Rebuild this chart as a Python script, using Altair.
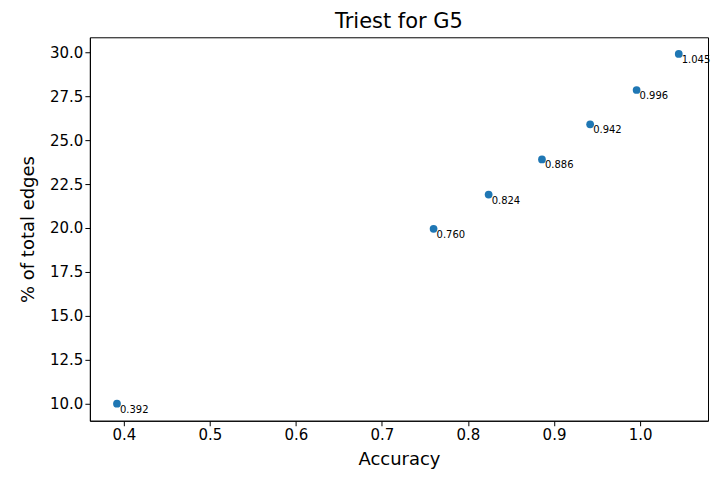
import altair as alt
import pandas as pd

accuracy = [0.392, 0.760, 0.824, 0.886, 0.942, 0.996, 1.045]
pct_edges = [10.0, 19.95, 21.9, 23.9, 25.9, 27.85, 29.9]
labels = ["0.392", "0.760", "0.824", "0.886", "0.942", "0.996", "1.045"]

df = pd.DataFrame({"acc": accuracy, "pct": pct_edges, "lab": labels})

x = alt.X("acc:Q", title="Accuracy", scale=alt.Scale(domain=[0.3605, 1.079], nice=False, zero=False),
          axis=alt.Axis(values=[0.4, 0.5, 0.6, 0.7, 0.8, 0.9, 1.0], format=".1f", titlePadding=8))
y = alt.Y("pct:Q", title="% of total edges", scale=alt.Scale(domain=[9.03, 30.85], nice=False, zero=False),
          axis=alt.Axis(values=[10, 12.5, 15, 17.5, 20, 22.5, 25, 27.5, 30], format=".1f", titlePadding=12))

base = alt.Chart(df).encode(x=x, y=y)
points = base.mark_circle(size=60, color="#1f77b4", opacity=1)
text = base.mark_text(align="left", baseline="middle", dx=3, dy=6, fontSize=10, color="black",
                      font="DejaVu Sans").encode(text="lab:N")

chart = (alt.layer(points, text)
         .properties(width=619, height=384, title="Triest for G5",
                     autosize=alt.AutoSizeParams(type="none"),
                     padding={"left": 82, "top": 29, "right": 10, "bottom": 50})
         .configure_view(stroke="black", strokeWidth=1)
         .configure_title(fontSize=21, fontWeight="normal", font="DejaVu Sans", color="black", offset=5)
         .configure_axis(grid=False, labelFontSize=15, titleFontSize=18, titleFontWeight="normal",
                         labelFont="DejaVu Sans", titleFont="DejaVu Sans", domainColor="black",
                         tickColor="black", labelColor="black", titleColor="black", tickSize=5))

chart.save("out.html", embed_options={"renderer": "svg", "actions": False})
